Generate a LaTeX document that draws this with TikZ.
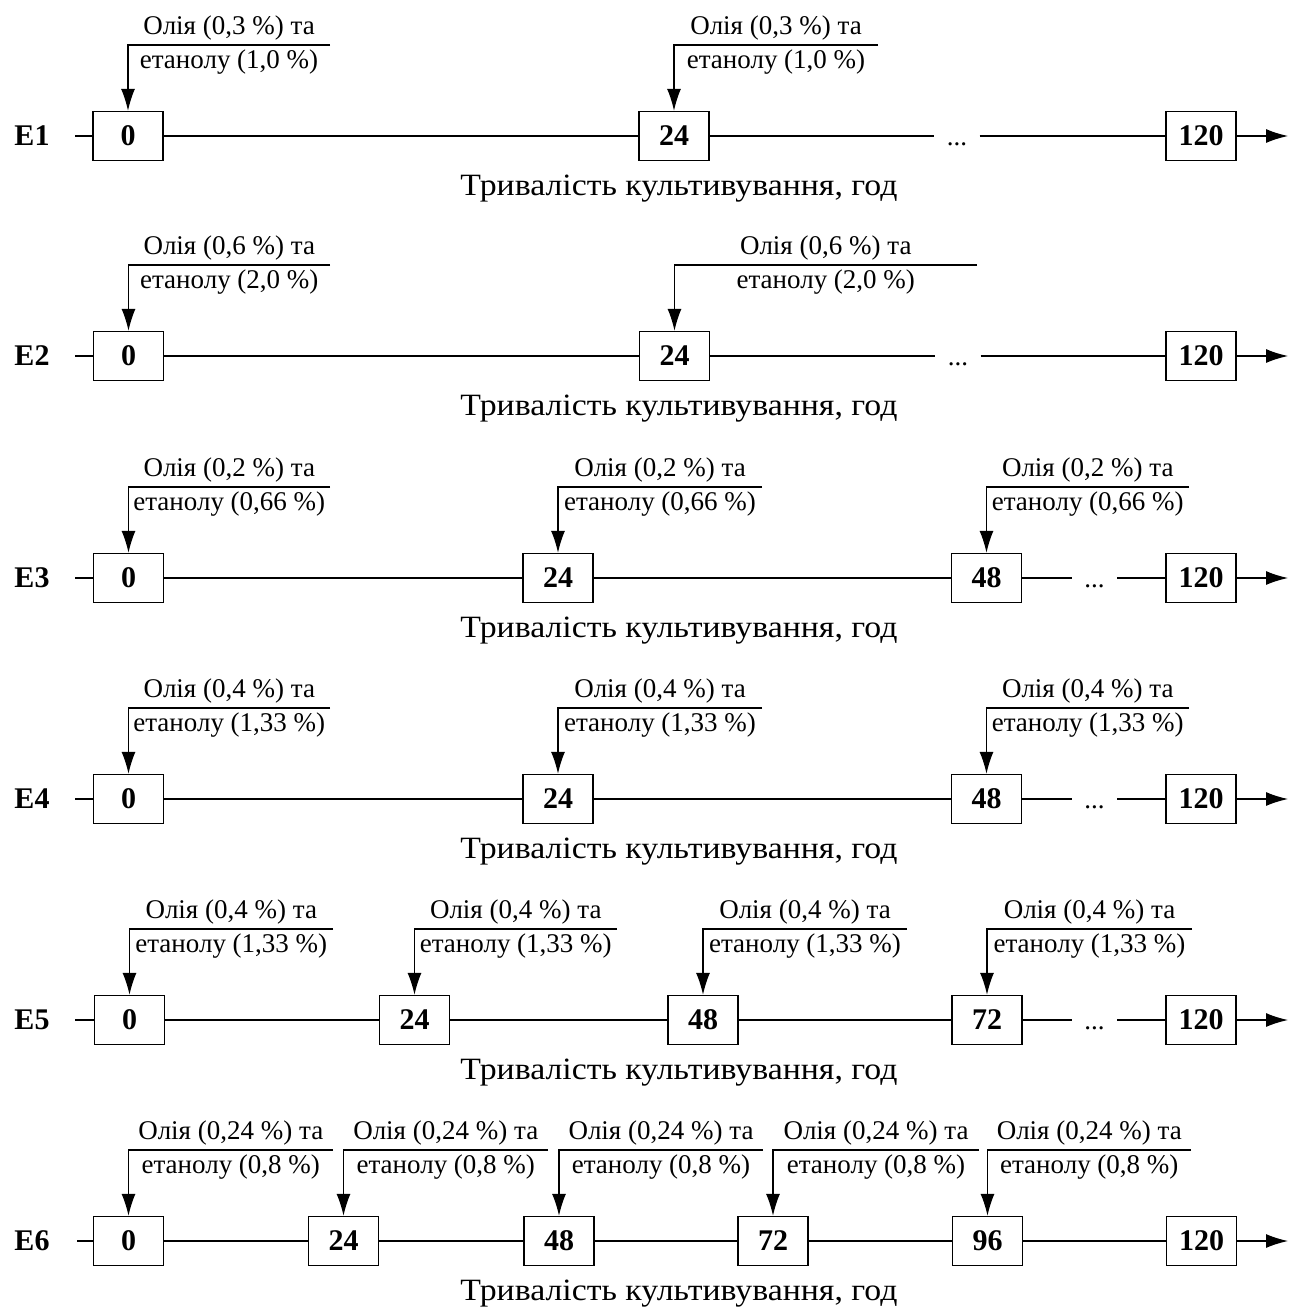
\documentclass[tikz,border=0pt]{standalone}
\usepackage{fontspec}
\setmainfont{Liberation Serif}
\usetikzlibrary{arrows.meta}
\newcommand\mydose[6]{%
  \coordinate (#1) at (#3,#4);
  \draw[arr] (#1) -| (#2.north)
    node[lbl, pos=0.25, yshift=11pt] (#1a) {Олія (#5 \%) та}
    node[lbl, pos=0.25, yshift=-23pt] (#1b) {етанолу (#6 \%)};
}
\newcommand\captext{\scalebox{1.09}[1]{Тривалість культивування, год}}
\begin{document}
\begin{tikzpicture}[x=1pt,y=-1pt,
  every node/.style={font=\fontsize{27}{32}\selectfont},
  tbox/.style={draw, line width=1.3pt, minimum width=70pt, minimum height=49pt, inner sep=0pt, font=\fontsize{30}{34}\selectfont\bfseries},
  ln/.style={line width=1.3pt},
  arr/.style={line width=1.3pt, -{Latex[length=22pt,width=14pt]}},
  lbl/.style={anchor=base, inner sep=0pt},
  elbl/.style={inner sep=0pt, font=\fontsize{30}{34}\selectfont\bfseries},
  dotsn/.style={anchor=base, inner sep=0pt, minimum width=45pt},
  captxt/.style={anchor=base, inner sep=0pt, font=\fontsize{31}{36}\selectfont}
]
\useasboundingbox (0,0) rectangle (1289,1307);

% ---------- E1 ----------
\node[elbl] (e1) at (32,136) {E1};
\coordinate (s1) at (75,136);
\coordinate (f1) at (1288,136);
\node[tbox] (b1a) at (128,136) {0};
\node[tbox] (b1b) at (674,136) {24};
\node[tbox] (b1z) at (1201,136) {120};
\node[dotsn] (d1) at (957,145) {...};
\draw[ln] (s1) -- (b1a.west);
\draw[ln] (b1a.east) -- (b1b.west);
\draw[ln] (b1b.east) -- (b1b.east -| d1.west);
\draw[ln] (d1.east |- b1z.west) -- (b1z.west);
\draw[arr] (b1z.east) -- (f1);
\mydose{t1a}{b1a}{330}{45}{0,3}{1,0}
\mydose{t1b}{b1b}{878}{45}{0,3}{1,0}
\node[captxt] (c1) at (679,195) {\captext};

% ---------- E2 ----------
\node[elbl] (e2) at (32,356) {E2};
\coordinate (s2) at (75,356);
\coordinate (f2) at (1288,356);
\node[tbox] (b2a) at (128.5,356) {0};
\node[tbox] (b2b) at (674.5,356) {24};
\node[tbox] (b2z) at (1201,356) {120};
\node[dotsn] (d2) at (958,365) {...};
\draw[ln] (s2) -- (b2a.west);
\draw[ln] (b2a.east) -- (b2b.west);
\draw[ln] (b2b.east) -- (b2b.east -| d2.west);
\draw[ln] (d2.east |- b2z.west) -- (b2z.west);
\draw[arr] (b2z.east) -- (f2);
\mydose{t2a}{b2a}{330}{265}{0,6}{2,0}
\mydose{t2b}{b2b}{977}{265}{0,6}{2,0}
\node[captxt] (c2) at (679,415) {\captext};

% ---------- E3 ----------
\node[elbl] (e3) at (32,578) {E3};
\coordinate (s3) at (75,578);
\coordinate (f3) at (1288,578);
\node[tbox] (b3a) at (128.5,578) {0};
\node[tbox] (b3b) at (558,578) {24};
\node[tbox] (b3c) at (986.5,578) {48};
\node[tbox] (b3z) at (1201,578) {120};
\node[dotsn] (d3) at (1094.5,587) {...};
\draw[ln] (s3) -- (b3a.west);
\draw[ln] (b3a.east) -- (b3b.west);
\draw[ln] (b3b.east) -- (b3c.west);
\draw[ln] (b3c.east) -- (b3c.east -| d3.west);
\draw[ln] (d3.east |- b3z.west) -- (b3z.west);
\draw[arr] (b3z.east) -- (f3);
\mydose{t3a}{b3a}{330}{487}{0,2}{0,66}
\mydose{t3b}{b3b}{762}{487}{0,2}{0,66}
\mydose{t3c}{b3c}{1189}{487}{0,2}{0,66}
\node[captxt] (c3) at (679,637) {\captext};

% ---------- E4 ----------
\node[elbl] (e4) at (32,799) {E4};
\coordinate (s4) at (75,799);
\coordinate (f4) at (1288,799);
\node[tbox] (b4a) at (128.5,799) {0};
\node[tbox] (b4b) at (558,799) {24};
\node[tbox] (b4c) at (986.5,799) {48};
\node[tbox] (b4z) at (1201,799) {120};
\node[dotsn] (d4) at (1094.5,808) {...};
\draw[ln] (s4) -- (b4a.west);
\draw[ln] (b4a.east) -- (b4b.west);
\draw[ln] (b4b.east) -- (b4c.west);
\draw[ln] (b4c.east) -- (b4c.east -| d4.west);
\draw[ln] (d4.east |- b4z.west) -- (b4z.west);
\draw[arr] (b4z.east) -- (f4);
\mydose{t4a}{b4a}{330}{708}{0,4}{1,33}
\mydose{t4b}{b4b}{762}{708}{0,4}{1,33}
\mydose{t4c}{b4c}{1189}{708}{0,4}{1,33}
\node[captxt] (c4) at (679,858) {\captext};

% ---------- E5 ----------
\node[elbl] (e5) at (32,1020) {E5};
\coordinate (s5) at (75,1020);
\coordinate (f5) at (1288,1020);
\node[tbox] (b5a) at (129.5,1020) {0};
\node[tbox] (b5b) at (414.5,1020) {24};
\node[tbox] (b5c) at (703,1020) {48};
\node[tbox] (b5d) at (987,1020) {72};
\node[tbox] (b5z) at (1201,1020) {120};
\node[dotsn] (d5) at (1094.5,1029) {...};
\draw[ln] (s5) -- (b5a.west);
\draw[ln] (b5a.east) -- (b5b.west);
\draw[ln] (b5b.east) -- (b5c.west);
\draw[ln] (b5c.east) -- (b5d.west);
\draw[ln] (b5d.east) -- (b5d.east -| d5.west);
\draw[ln] (d5.east |- b5z.west) -- (b5z.west);
\draw[arr] (b5z.east) -- (f5);
\mydose{t5a}{b5a}{333}{929}{0,4}{1,33}
\mydose{t5b}{b5b}{617}{929}{0,4}{1,33}
\mydose{t5c}{b5c}{907}{929}{0,4}{1,33}
\mydose{t5d}{b5d}{1192}{929}{0,4}{1,33}
\node[captxt] (c5) at (679,1079) {\captext};

% ---------- E6 ----------
\node[elbl] (e6) at (32,1241) {E6};
\coordinate (s6) at (77,1241);
\coordinate (f6) at (1288,1241);
\node[tbox] (b6a) at (128.5,1241) {0};
\node[tbox] (b6b) at (343.5,1241) {24};
\node[tbox] (b6c) at (559,1241) {48};
\node[tbox] (b6d) at (773,1241) {72};
\node[tbox] (b6e) at (987.5,1241) {96};
\node[tbox] (b6z) at (1201.5,1241) {120};
\draw[ln] (s6) -- (b6a.west);
\draw[ln] (b6a.east) -- (b6b.west);
\draw[ln] (b6b.east) -- (b6c.west);
\draw[ln] (b6c.east) -- (b6d.west);
\draw[ln] (b6d.east) -- (b6e.west);
\draw[ln] (b6e.east) -- (b6z.west);
\draw[arr] (b6z.east) -- (f6);
\mydose{t6a}{b6a}{333}{1150}{0,24}{0,8}
\mydose{t6b}{b6b}{548}{1150}{0,24}{0,8}
\mydose{t6c}{b6c}{763}{1150}{0,24}{0,8}
\mydose{t6d}{b6d}{979}{1150}{0,24}{0,8}
\mydose{t6e}{b6e}{1191}{1150}{0,24}{0,8}
\node[captxt] (c6) at (679,1300) {\captext};
\end{tikzpicture}
\end{document}
